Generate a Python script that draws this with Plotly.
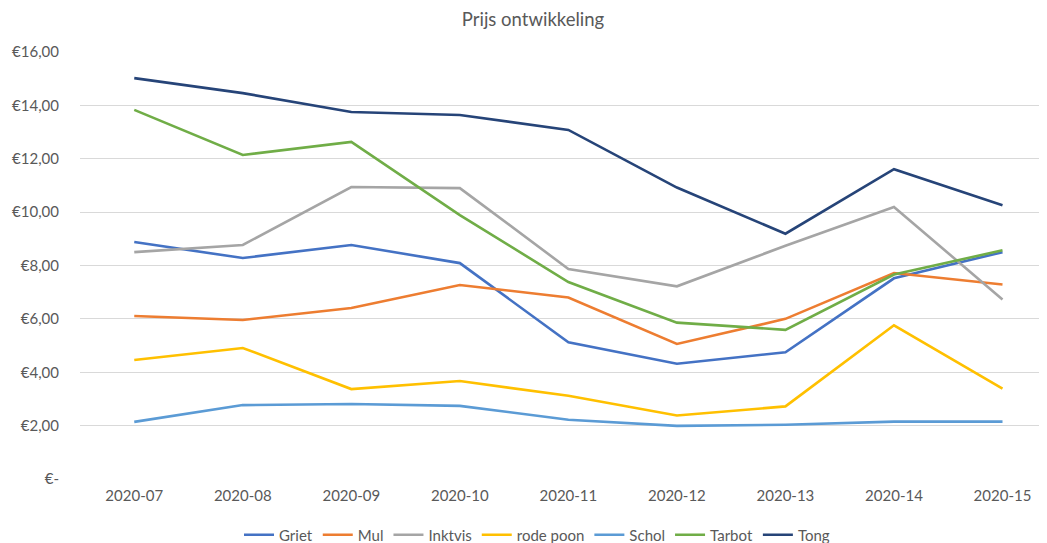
import plotly.graph_objects as go

weeks = ["2020-07", "2020-08", "2020-09", "2020-10", "2020-11", "2020-12", "2020-13", "2020-14", "2020-15"]

griet = [8.88, 8.28, 8.77, 8.09, 5.12, 4.32, 4.75, 7.52, 8.50]
mul = [6.11, 5.96, 6.41, 7.27, 6.80, 5.06, 6.00, 7.72, 7.29]
inktvis = [8.50, 8.77, 10.94, 10.90, 7.87, 7.22, 8.74, 10.19, 6.73]
rode_poon = [4.46, 4.91, 3.37, 3.67, 3.12, 2.38, 2.72, 5.76, 3.39]
schol = [2.14, 2.77, 2.81, 2.74, 2.22, 1.99, 2.03, 2.15, 2.15]
tarbot = [13.83, 12.14, 12.63, 9.89, 7.38, 5.86, 5.59, 7.66, 8.57]
tong = [15.02, 14.46, 13.75, 13.64, 13.08, 10.92, 9.19, 11.61, 10.26]

series_names = ["Griet", "Mul", "Inktvis", "rode poon", "Schol", "Tarbot", "Tong"]
series_values = [griet, mul, inktvis, rode_poon, schol, tarbot, tong]
colors = ["#4472C4", "#ED7D31", "#A5A5A5", "#FFC000", "#5B9BD5", "#70AD47", "#264478"]

y_tickvals = [0, 2, 4, 6, 8, 10, 12, 14, 16]
y_ticktext = ["€-", "€2,00", "€4,00", "€6,00", "€8,00", "€10,00", "€12,00", "€14,00", "€16,00"]

fig = go.Figure()
for name, vals, col in zip(series_names, series_values, colors):
    fig.add_trace(go.Scatter(x=list(range(len(weeks))), y=vals, name=name, mode="lines",
                             line=dict(color=col, width=2.6)))

W, H = 1039, 535  # page body adds an 8px margin
font_fam = "Lato, 'Open Sans', sans-serif"
fig.update_layout(
    width=W, height=H,
    margin=dict(l=72, r=0, t=44, b=64),
    paper_bgcolor="white", plot_bgcolor="white",
    font=dict(family=font_fam, color="#595959", size=15),
    title=dict(text="Prijs ontwikkeling", x=525/W, xref="container", xanchor="center",
               y=1 - 12/H, yref="container", yanchor="middle",
               font=dict(size=18.5, color="#595959", family=font_fam)),
    showlegend=True,
    legend=dict(orientation="h", xref="container", x=529/W, xanchor="center",
                yref="container", y=8/H, yanchor="middle",
                font=dict(size=15, color="#595959"), itemwidth=30,
                bgcolor="rgba(0,0,0,0)", tracegroupgap=0),
)
fig.update_xaxes(
    tickmode="array", tickvals=list(range(len(weeks))), ticktext=weeks,
    range=[-0.5, 8.41], showgrid=False, zeroline=False, showline=False,
    ticks="", ticklabelstandoff=6, tickfont=dict(size=15, color="#595959"),
)
fig.update_yaxes(
    range=[0, 16], tickmode="array", tickvals=y_tickvals, ticktext=y_ticktext,
    showgrid=True, gridcolor="#D9D9D9", gridwidth=1, zeroline=False, showline=False,
    ticks="", ticklabelstandoff=20, tickfont=dict(size=15, color="#595959"),
)

fig.write_html("out.html")
